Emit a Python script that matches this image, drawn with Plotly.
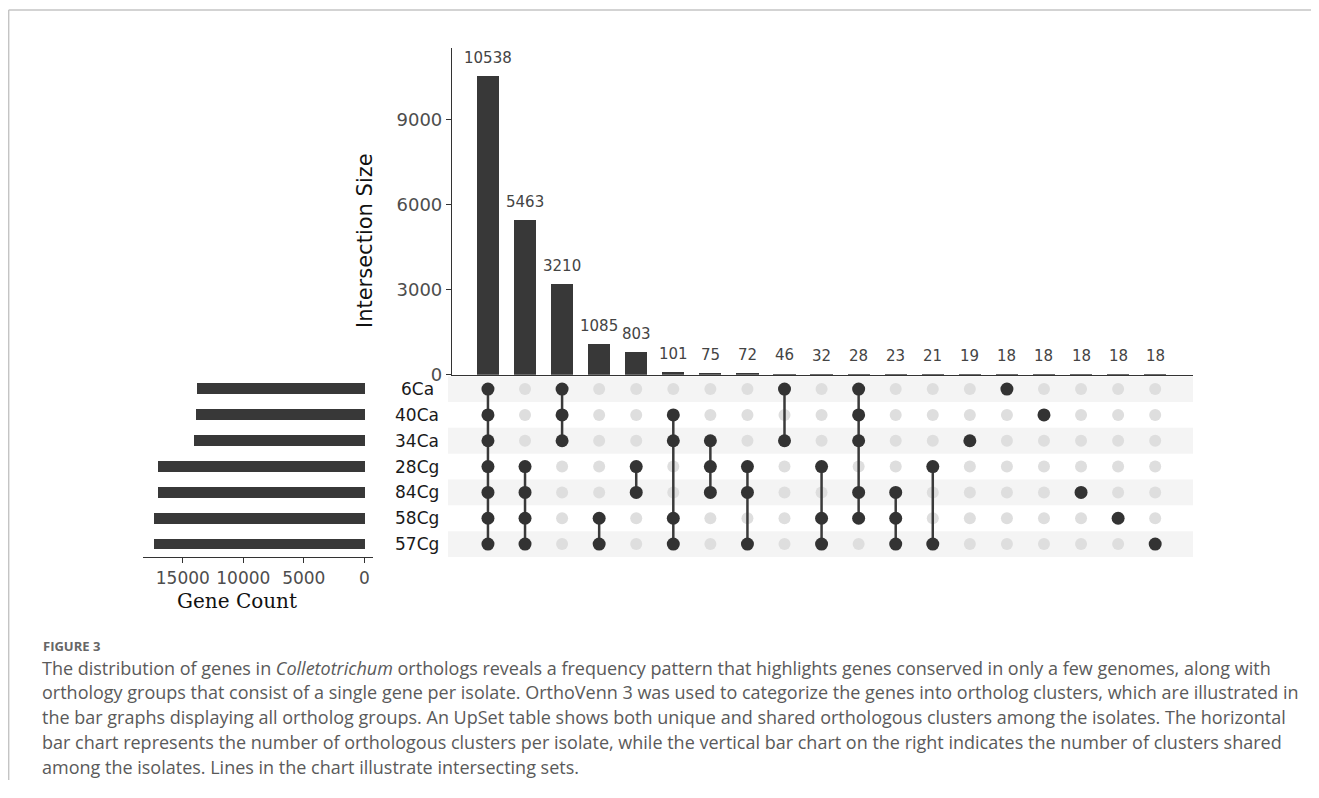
import plotly.graph_objects as go

W, H = 1319, 798
OFF = 8            # browser body margin
FW, FH = W - 2 * OFF, H - 2 * OFF
VS = 0.987         # observed vertical compression of the photographed page

# ---------------- data ----------------
sets = ["6Ca", "40Ca", "34Ca", "28Cg", "84Cg", "58Cg", "57Cg"]
set_sizes = [13850, 13970, 14070, 17070, 17070, 17380, 17380]

intersection_sizes = [10538, 5463, 3210, 1085, 803, 101, 75, 72, 46, 32, 28, 23, 21, 19, 18, 18, 18, 18, 18]
combo_members = [
    ["6Ca", "40Ca", "34Ca", "28Cg", "84Cg", "58Cg", "57Cg"],
    ["28Cg", "84Cg", "58Cg", "57Cg"],
    ["6Ca", "40Ca", "34Ca"],
    ["58Cg", "57Cg"],
    ["28Cg", "84Cg"],
    ["40Ca", "34Ca", "58Cg", "57Cg"],
    ["34Ca", "28Cg", "84Cg"],
    ["28Cg", "84Cg", "57Cg"],
    ["6Ca", "34Ca"],
    ["28Cg", "58Cg", "57Cg"],
    ["6Ca", "40Ca", "34Ca", "84Cg", "58Cg"],
    ["84Cg", "58Cg", "57Cg"],
    ["28Cg", "57Cg"],
    ["34Ca"],
    ["6Ca"],
    ["40Ca"],
    ["84Cg"],
    ["58Cg"],
    ["57Cg"],
]

inter_ticks = [0, 3000, 6000, 9000]
set_ticks = [0, 5000, 10000, 15000]
set_tick_labels = ["0", "5000", "10000", "15000"]

caption_label = "FIGURE 3"
caption_lines = [
    "The distribution of genes in <i>Colletotrichum</i> orthologs reveals a frequency pattern that highlights genes conserved in only a few genomes, along with",
    "orthology groups that consist of a single gene per isolate. OrthoVenn 3 was used to categorize the genes into ortholog clusters, which are illustrated in",
    "the bar graphs displaying all ortholog groups. An UpSet table shows both unique and shared orthologous clusters among the isolates. The horizontal",
    "bar chart represents the number of orthologous clusters per isolate, while the vertical bar chart on the right indicates the number of clusters shared",
    "among the isolates. Lines in the chart illustrate intersecting sets.",
]


def px(x):
    return (x - OFF) / FW


def py(y):
    return 1 - ((y - OFF) / VS) / FH


DARK = "#383838"
SANS = "DejaVu Sans"
n = len(intersection_sizes)
cols = list(range(n))
rows = list(range(len(sets)))

fig = go.Figure()

# intersection size bars
fig.add_trace(go.Bar(x=cols, y=intersection_sizes, width=0.6, marker=dict(color=DARK, line=dict(width=0)),
                     xaxis="x", yaxis="y", hoverinfo="y"))

# matrix: inactive / active dots and connecting lines
ix, iy, ax, ay, lx, ly = [], [], [], [], [], []
for j, members in enumerate(combo_members):
    act = [sets.index(s) for s in members]
    for i in rows:
        if i in act:
            ax.append(j); ay.append(i)
        else:
            ix.append(j); iy.append(i)
    if len(act) > 1:
        lx += [j, j, None]
        ly += [min(act), max(act), None]

fig.add_trace(go.Scatter(x=ix, y=iy, mode="markers", marker=dict(size=12, color="#dedede"),
                         xaxis="x2", yaxis="y2", hoverinfo="skip"))
fig.add_trace(go.Scatter(x=lx, y=ly, mode="lines", line=dict(color="#3a3a3a", width=2.5),
                         xaxis="x2", yaxis="y2", hoverinfo="skip"))
fig.add_trace(go.Scatter(x=ax, y=ay, mode="markers", marker=dict(size=13, color="#333333"),
                         xaxis="x2", yaxis="y2", hoverinfo="skip"))

# set size bars
fig.add_trace(go.Bar(y=rows, x=set_sizes, orientation="h", width=0.42,
                     marker=dict(color=DARK, line=dict(width=0)), xaxis="x3", yaxis="y3", hoverinfo="x"))

xr = [-0.97, 19.02]
x_dom = [px(452), px(1193)]
m_dom = [py(556.9), py(376.1)]

annotations = []
for j, v in enumerate(intersection_sizes):
    annotations.append(dict(x=j, y=v, xref="x", yref="y", text=str(v), showarrow=False,
                            yanchor="middle", yshift=18, font=dict(family=SANS, size=15, color="#444444")))
for i, s in enumerate(sets):
    annotations.append(dict(x=px(417), y=i, xref="paper", yref="y2", text=s, showarrow=False,
                            xanchor="center", yanchor="middle", font=dict(family=SANS, size=17, color="#1a1a1a")))
annotations.append(dict(x=px(365), y=py(240), xref="paper", yref="paper", text="Intersection Size",
                        textangle=-90, showarrow=False, xanchor="center", yanchor="middle",
                        font=dict(family=SANS, size=21, color="#111111")))
annotations.append(dict(x=px(237), y=py(601), xref="paper", yref="paper", text="Gene Count",
                        showarrow=False, xanchor="center", yanchor="middle",
                        font=dict(family="DejaVu Serif", size=20, color="#111111")))
annotations.append(dict(x=px(41), y=py(646), xref="paper", yref="paper", text="<b>" + caption_label + "</b>",
                        showarrow=False, xanchor="left", yanchor="middle",
                        font=dict(family="Open Sans", size=13, color="#666666")))
for k, line in enumerate(caption_lines):
    annotations.append(dict(x=px(40), y=py(667.5 + 24.8 * k), xref="paper", yref="paper", text=line,
                            showarrow=False, xanchor="left", yanchor="middle",
                            font=dict(family="Open Sans", size=18, color="#5a5a5a")))

shapes = []
for i in rows:
    if i % 2 == 0:
        shapes.append(dict(type="rect", xref="paper", yref="y2", x0=px(448), x1=px(1193),
                           y0=i - 0.5, y1=i + 0.5, fillcolor="#f4f4f4", line=dict(width=0), layer="below"))
# frame
shapes.append(dict(type="line", xref="paper", yref="paper", x0=0.0005, x1=1, y0=py(10), y1=py(10),
                   line=dict(color="#c4c4c4", width=1.5)))
shapes.append(dict(type="line", xref="paper", yref="paper", x0=0.0005, x1=0.0005, y0=py(10), y1=0,
                   line=dict(color="#c4c4c4", width=1.5)))

fig.update_layout(
    width=FW, height=FH, margin=dict(l=0, r=0, t=0, b=0),
    paper_bgcolor="white", plot_bgcolor="rgba(0,0,0,0)", showlegend=False,
    bargap=0,
    xaxis=dict(domain=x_dom, range=xr, anchor="y", showline=True, linecolor="#333333", linewidth=1.2,
               showticklabels=False, ticks="", showgrid=False, zeroline=False),
    yaxis=dict(domain=[py(374.7), py(47.7)], range=[0, 11520], anchor="x", showline=True,
               linecolor="#333333", linewidth=1.2, ticks="outside", ticklen=5, tickcolor="#333333",
               tickvals=inter_ticks, tickfont=dict(family=SANS, size=18, color="#4d4d4d"),
               showgrid=False, zeroline=False),
    xaxis2=dict(domain=x_dom, range=xr, anchor="y2", visible=False),
    yaxis2=dict(domain=m_dom, range=[6.5, -0.5], anchor="x2", visible=False),
    xaxis3=dict(domain=[px(142.7), px(373.3)], range=[18314, -744], anchor="y3", showline=True,
                linecolor="#333333", linewidth=1.2, ticks="outside", ticklen=5, tickcolor="#333333",
                tickvals=set_ticks, ticktext=set_tick_labels,
                tickfont=dict(family=SANS, size=17, color="#4d4d4d"),
                showgrid=False, zeroline=False),
    yaxis3=dict(domain=m_dom, range=[6.5, -0.5], anchor="x3", visible=False),
    annotations=annotations,
    shapes=shapes,
)

fig.write_html("out.html")
